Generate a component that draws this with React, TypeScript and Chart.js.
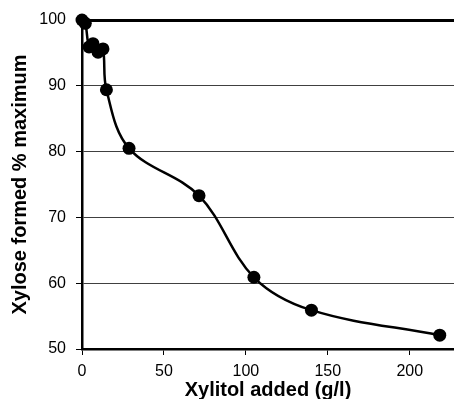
import React, { useEffect, useRef } from "react";
import { Chart, registerables } from "chart.js";

Chart.register(...registerables);

// Xylitol added (g/l) and the corresponding xylose formed (% of maximum)
const xylitolAdded = [0, 2, 4.3, 6.7, 9.8, 12.8, 14.9, 28.7, 71.4, 104.9, 140, 218.3];
const xyloseFormed = [100, 99.5, 95.9, 96.4, 95.1, 95.6, 89.4, 80.5, 73.3, 60.9, 55.9, 52.1];

const xTicks = [0, 50, 100, 150, 200];
const yTicks = [50, 60, 70, 80, 90, 100];

const FONT = "'Liberation Sans', Arial, sans-serif";

export default function App() {
  const canvasRef = useRef<HTMLCanvasElement | null>(null);

  useEffect(() => {
    const canvas = canvasRef.current;
    if (!canvas) return;
    const points = xylitolAdded.map((x, i) => ({ x, y: xyloseFormed[i] }));

    const chart = new Chart(canvas, {
      type: "scatter",
      data: {
        datasets: [
          {
            data: points,
            showLine: true,
            borderColor: "#000",
            backgroundColor: "#000",
            borderWidth: 2.5,
            tension: 0.36,
            pointRadius: 6.5,
            pointBorderWidth: 0,
            pointBackgroundColor: "#000",
            clip: false,
          },
        ],
      },
      options: {
        responsive: false,
        animation: false,
        devicePixelRatio: 1,
        layout: { autoPadding: false, padding: { top: 20, right: 0, left: 0, bottom: 0 } },
        plugins: { legend: { display: false }, tooltip: { enabled: false } },
        scales: {
          x: {
            type: "linear",
            min: 0,
            max: 227,
            afterBuildTicks: (axis: any) => {
              axis.ticks = xTicks.map((v) => ({ value: v }));
            },
            afterFit: (axis: any) => {
              axis.height = 50;
            },
            ticks: {
              color: "#000",
              font: { family: FONT, size: 16 },
              padding: 7,
              maxRotation: 0,
            },
            grid: {
              drawOnChartArea: false,
              drawTicks: true,
              tickLength: 6,
              tickColor: "#000",
              tickWidth: 1,
            },
            border: { display: true, color: "#000", width: 2.5 },
            title: {
              display: true,
              text: "Xylitol added (g/l)",
              color: "#000",
              font: { family: FONT, size: 20, weight: "bold", lineHeight: 0.85 },
              padding: { top: 0, bottom: 0 },
            },
          },
          y: {
            type: "linear",
            min: 50,
            max: 100,
            afterBuildTicks: (axis: any) => {
              axis.ticks = yTicks.map((v) => ({ value: v }));
            },
            afterFit: (axis: any) => {
              axis.width = 82;
            },
            ticks: {
              color: "#000",
              font: { family: FONT, size: 16 },
              padding: 10,
            },
            grid: {
              drawTicks: true,
              tickLength: 6,
              tickColor: "#000",
              tickWidth: 1,
              color: (ctx: any) => (ctx.tick && ctx.tick.value === 100 ? "#000" : "#404040"),
              lineWidth: (ctx: any) => (ctx.tick && ctx.tick.value === 100 ? 3 : 1),
            },
            border: { display: true, color: "#000", width: 2.5 },
            title: {
              display: true,
              text: "Xylose formed % maximum",
              color: "#000",
              font: { family: FONT, size: 20, weight: "bold", lineHeight: 1.2 },
              padding: { top: 8, bottom: 0 },
            },
          },
        },
      },
    });

    return () => chart.destroy();
  }, []);

  return (
    <div style={{ position: "fixed", left: 0, top: 0, width: 454, height: 399, background: "#fff" }}>
      <canvas ref={canvasRef} width={454} height={399} style={{ width: 454, height: 399, display: "block" }} />
    </div>
  );
}
